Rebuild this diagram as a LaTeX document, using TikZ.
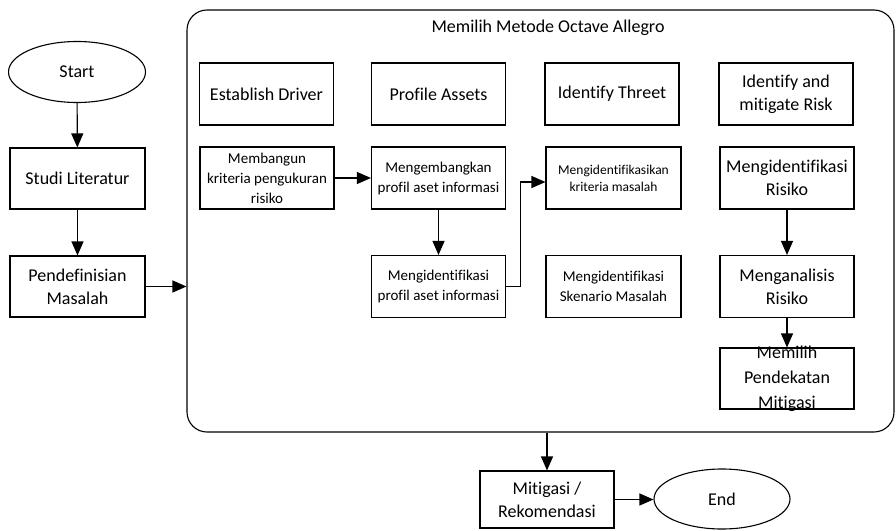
\documentclass[tikz,border=0pt]{standalone}
\usepackage{fontspec}
\setmainfont[Ligatures=NoCommon]{Carlito}
\usetikzlibrary{shapes.geometric,arrows.meta}
\begin{document}
\begin{tikzpicture}[x=1pt,y=-1pt,
  line width=1.1pt,
  big/.style={font=\fontsize{18}{23}\selectfont},
  mid/.style={font=\fontsize{15}{20}\selectfont},
  sml/.style={font=\fontsize{13.5}{17}\selectfont},
  box/.style={draw, rectangle, align=center, inner sep=1pt, minimum width=134pt, minimum height=62pt},
  oval/.style={draw, ellipse, inner sep=0pt, minimum width=137pt, minimum height=61pt, big},
  arr/.style={-{Triangle[length=14pt,width=12pt]}}]
\useasboundingbox (0,0) rectangle (896,530);
% left column
\node[oval] (start) at (77,72) {Start};
\node[box,big,minimum width=135pt,minimum height=61pt] (stud) at (77.5,178.5) {Studi Literatur};
\node[box,big,minimum width=135pt,minimum height=61pt] (pend) at (77.5,286.5) {Pendefinisian\\Masalah};
% container
\node[draw, rectangle, rounded corners=20pt, minimum width=707pt, minimum height=422pt, inner sep=0pt] (cont) at (540.5,221) {};
\node[big] (title) at (548,28) {Memilih Metode Octave Allegro};
% headers
\node[box,big] (h1) at (266.5,94) {Establish Driver};
\node[box,big] (h2) at (438.5,94) {Profile Assets};
\node[box,big] (h3) at (612,94) {Identify Threet};
\node[box,big] (h4) at (786,94) {Identify and\\mitigate Risk};
% column 1-3
\node[box,mid] (memb) at (267,178) {Membangun\\kriteria pengukuran\\risiko};
\node[box,mid] (meng) at (438.5,178) {Mengembangkan\\profil aset informasi};
\node[box,mid] (mip) at (438.5,286.5) {Mengidentifikasi\\profil aset informasi};
\node[box,sml,minimum width=135pt] (mik) at (613.5,178) {Mengidentifikasikan\\kriteria masalah};
\node[box,mid,minimum width=135pt] (skn) at (613.5,286.5) {Mengidentifikasi\\Skenario Masalah};
% column 4
\node[box,big] (mr) at (787,178) {Mengidentifikasi\\Risiko};
\node[box,big] (ma) at (787,286.5) {Menganalisis\\Risiko};
\node[box,minimum height=61pt] (mpm) at (787,378.5) {};
\node[big,align=center,font=\fontsize{18}{25}\selectfont] (mpmt) at (mpm) {Memilih\\Pendekatan\\Mitigasi};
% bottom
\node[box,big,minimum height=57pt] (mit) at (547,499.5) {Mitigasi /\\Rekomendasi};
\node[oval,minimum width=136pt,minimum height=60pt] (end) at (722,499) {End};
% connectors
\draw[arr] (start) -- (stud);
\draw[arr] (stud) -- (pend);
\draw[arr] (pend.east) -- (pend.east -| cont.west);
\draw[arr] (memb) -- (meng);
\draw[arr] (meng) -- (mip);
\draw[arr] (mip.east) -- ++(14,0) |- ([yshift=-4pt]mik.west);
\draw[arr] (mr) -- (ma);
\draw[arr] (ma) -- (mpm);
\draw[arr] (cont.south -| mit.north) -- (mit.north);
\draw[arr] (mit.east) -- (mit.east -| end.west);
\end{tikzpicture}
\end{document}
